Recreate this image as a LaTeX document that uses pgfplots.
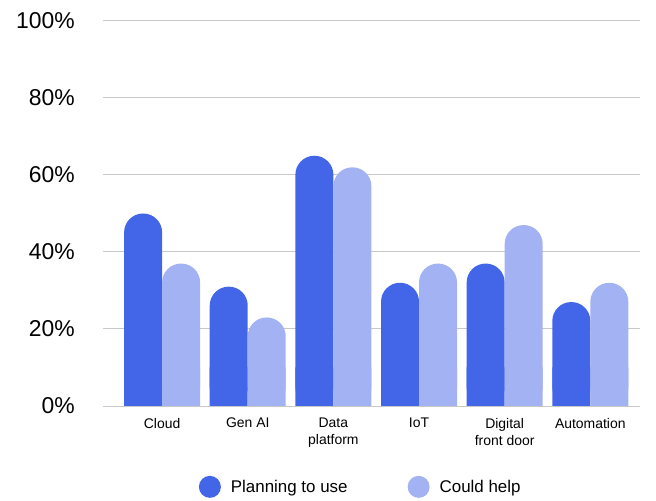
\documentclass[border=0pt]{standalone}
\usepackage{fontspec}
\setmainfont{Liberation Sans}
\usepackage{pgfplots}
\pgfplotsset{compat=1.18}
\definecolor{planblue}{RGB}{67,102,232}
\definecolor{helpblue}{RGB}{163,178,242}
\definecolor{gridgray}{RGB}{200,200,200}
\begin{document}
\begin{tikzpicture}
\useasboundingbox (0,0) rectangle (656bp,501bp);
\begin{axis}[
  at={(103bp,95bp)}, anchor=south west,
  scale only axis, width=537bp, height=385bp,
  xmin=-0.69, xmax=5.58, ymin=0, ymax=100,
  ytick={0,20,40,60,80,100},
  yticklabel={\pgfmathprintnumber{\tick}\%},
  /pgf/number format/assume math mode=true,
  yticklabel style={anchor=east, inner sep=0pt, xshift=-28bp, font=\fontsize{23}{27}\selectfont},
  xtick={0,1,2,3,4,5},
  xticklabels={Cloud, Gen AI, Data\\platform, IoT, Digital\\front door, Automation},
  xticklabel style={anchor=north, inner sep=0pt, yshift=-12bp, align=center, font=\fontsize{14}{17}\selectfont},
  major tick length=0pt,
  axis line style={draw=none},
  ymajorgrids, grid style={gridgray, line width=1bp},
  clip=true,
  legend style={draw=none, at={(0.48,-0.21)}, anchor=center, font=\fontsize{17}{20}\selectfont, legend columns=2,
    /tikz/every odd column/.append style={column sep=8bp},
    /tikz/every even column/.append style={column sep=58bp}},
  legend cell align=left,
]
% square bottoms (cover rounded bottom corners)
\addplot[ybar, bar width=38bp, bar shift=-19bp, fill=planblue, draw=none, forget plot]
  coordinates {(0,10) (1,10) (2,10) (3,10) (4,10) (5,10)};
\addplot[ybar, bar width=38bp, bar shift=19bp, fill=helpblue, draw=none, forget plot]
  coordinates {(0,10) (1,10) (2,10) (3,10) (4,10) (5,10)};
% rounded bars
\addplot[ybar, bar width=38bp, bar shift=-19bp, fill=planblue, draw=none, rounded corners=18.9bp,
  legend image code/.code={\fill[planblue] (0cm,0cm) circle (11bp);}]
  coordinates {(0,50) (1,31) (2,65) (3,32) (4,37) (5,27)};
\addlegendentry{Planning to use}
\addplot[ybar, bar width=38bp, bar shift=19bp, fill=helpblue, draw=none, rounded corners=18.9bp,
  legend image code/.code={\fill[helpblue] (0cm,0cm) circle (11bp);}]
  coordinates {(0,37) (1,23) (2,62) (3,37) (4,47) (5,32)};
\addlegendentry{Could help}
\end{axis}
\end{tikzpicture}
\end{document}
